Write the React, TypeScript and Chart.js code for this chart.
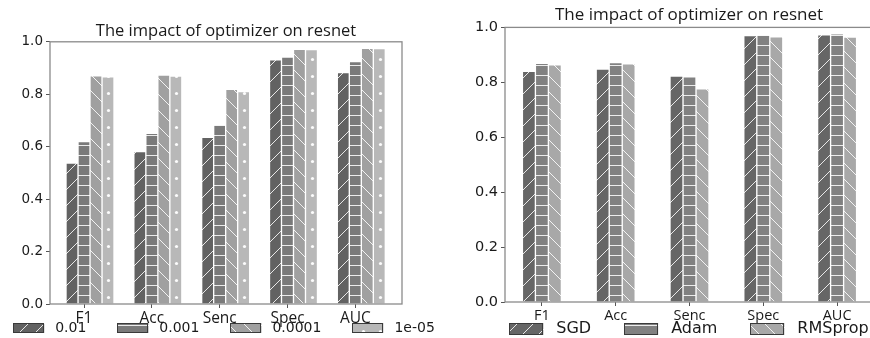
import React, { useEffect, useRef } from 'react';
import { Chart, registerables } from 'chart.js';
Chart.register(...registerables);

const categories = ['F1', 'Acc', 'Senc', 'Spec', 'AUC'];
const lrLabels = ['0.01', '0.001', '0.0001', '1e-05'];
const lr1e2 = [0.537, 0.581, 0.636, 0.931, 0.883];
const lr1e3 = [0.619, 0.651, 0.683, 0.942, 0.925];
const lr1e4 = [0.870, 0.873, 0.819, 0.971, 0.975];
const lr1e5 = [0.866, 0.869, 0.810, 0.970, 0.974];
const optLabels = ['SGD', 'Adam', 'RMSprop'];
const sgd = [0.840, 0.848, 0.823, 0.970, 0.973];
const adam = [0.869, 0.872, 0.820, 0.972, 0.977];
const rmsprop = [0.864, 0.867, 0.776, 0.966, 0.965];
const yTicks = [0, 0.2, 0.4, 0.6, 0.8, 1.0];
const titleText = 'The impact of optimizer on resnet';

type Kind = '/' | '-' | '\\' | '.';

function makePattern(kind: Kind, bg: string): CanvasPattern | string {
  const size = kind === '-' ? 10 : kind === '.' ? 17 : 16;
  const c = document.createElement('canvas');
  c.width = size;
  c.height = size;
  const g = c.getContext('2d');
  if (!g) return bg;
  g.fillStyle = bg;
  g.fillRect(0, 0, size, size);
  g.strokeStyle = 'rgba(255,255,255,0.85)';
  g.fillStyle = 'rgba(255,255,255,0.95)';
  g.lineWidth = 1;
  g.beginPath();
  if (kind === '/') {
    g.moveTo(-2, size + 2); g.lineTo(size + 2, -2);
    g.moveTo(-2, 2); g.lineTo(2, -2);
    g.moveTo(size - 2, size + 2); g.lineTo(size + 2, size - 2);
    g.stroke();
  } else if (kind === '\\') {
    g.moveTo(-2, -2); g.lineTo(size + 2, size + 2);
    g.moveTo(size - 2, -2); g.lineTo(size + 2, 2);
    g.moveTo(-2, size - 2); g.lineTo(2, size + 2);
    g.stroke();
  } else if (kind === '-') {
    g.moveTo(0, size / 2 + 0.5); g.lineTo(size, size / 2 + 0.5);
    g.stroke();
  } else {
    g.arc(6.5, size / 2, 1.6, 0, Math.PI * 2);
    g.fill();
  }
  return g.createPattern(c, 'repeat') || bg;
}

const legendPlugin = {
  id: 'patternLegend',
  afterDraw(chart: any, _args: any, opts: any) {
    const ctx = chart.ctx as CanvasRenderingContext2D;
    const ds = chart.data.datasets;
    ctx.save();
    ctx.font = `${opts.size}px ${opts.family}`;
    const widths = ds.map((d: any) => ctx.measureText(d.label).width);
    const total = widths.reduce((a: number, w: number) => a + opts.boxW + opts.gap + w, 0) + opts.itemGap * (ds.length - 1);
    let x = opts.cx - total / 2;
    ds.forEach((d: any, i: number) => {
      const by = opts.cy - opts.boxH / 2;
      ctx.fillStyle = d.backgroundColor;
      ctx.fillRect(x, by, opts.boxW, opts.boxH);
      ctx.strokeStyle = '#3a3a3a';
      ctx.lineWidth = 1;
      ctx.strokeRect(Math.round(x) + 0.5, Math.round(by) + 0.5, opts.boxW - 1, opts.boxH - 1);
      ctx.fillStyle = '#1a1a1a';
      ctx.textBaseline = 'middle';
      ctx.textAlign = 'left';
      ctx.fillText(d.label, x + opts.boxW + opts.gap, opts.cy);
      x += opts.boxW + opts.gap + widths[i] + opts.itemGap;
    });
    ctx.restore();
  },
};

const framePlugin = {
  id: 'frame',
  afterDatasetsDraw(chart: any) {
    const { ctx, chartArea: a } = chart;
    ctx.save();
    ctx.strokeStyle = '#8a8a8a';
    ctx.lineWidth = 1.3;
    ctx.strokeRect(a.left, a.top, a.right - a.left, a.bottom - a.top);
    ctx.restore();
  },
};

interface Spec {
  labels: string[];
  series: number[][];
  kinds: Kind[];
  colors: string[];
  width: number;
  yAxisW: number;
  padRight: number;
  barW: number;
  xMin: number;
  xMax: number;
  tickOff: number;
  titleSize: number;
  titlePadTop: number;
  titlePadBottom: number;
  xAxisH: number;
  yFont: number;
  xFont: number;
  legend: any;
}

function buildConfig(s: Spec): any {
  const datasets = s.series.map((vals, k) => ({
    label: s.labels[k],
    data: vals.map((v, i) => ({ x: i, y: v })),
    backgroundColor: makePattern(s.kinds[k], s.colors[k]),
    borderColor: 'rgba(255,255,255,0.9)',
    borderWidth: 1,
    borderSkipped: 'bottom',
    barThickness: s.barW,
    yAxisID: 'y',
  }));
  return {
    type: 'bar',
    data: { datasets },
    plugins: [framePlugin, legendPlugin],
    options: {
      responsive: false,
      animation: false,
      devicePixelRatio: 1,
      layout: { padding: 0 },
      plugins: {
        legend: { display: false },
        tooltip: { enabled: false },
        title: {
          display: true,
          text: titleText,
          color: '#1a1a1a',
          font: { family: 'Open Sans', size: s.titleSize, weight: 'normal', lineHeight: 1.2 },
          padding: { top: s.titlePadTop, bottom: s.titlePadBottom },
        },
        patternLegend: s.legend,
      },
      scales: {
        x: {
          type: 'linear',
          min: s.xMin,
          max: s.xMax,
          offset: false,
          afterBuildTicks: (axis: any) => {
            axis.ticks = categories.map((_, i) => ({ value: i + s.tickOff }));
          },
          afterFit: (axis: any) => { axis.height = s.xAxisH; },
          ticks: {
            autoSkip: false,
            maxRotation: 0,
            padding: 1,
            color: '#1a1a1a',
            font: { family: 'Open Sans', size: s.xFont },
            callback: (_v: any, i: number) => categories[i],
          },
          grid: { display: true, offset: false, drawOnChartArea: false, drawTicks: true, tickLength: 4, color: '#555' },
          border: { display: false },
        },
        y: {
          type: 'linear',
          position: 'left',
          min: 0,
          max: 1,
          afterBuildTicks: (axis: any) => {
            axis.ticks = yTicks.map((v) => ({ value: v }));
          },
          afterFit: (axis: any) => { axis.width = s.yAxisW; },
          ticks: {
            padding: 3,
            color: '#1a1a1a',
            font: { family: 'DejaVu Sans', size: s.yFont },
            callback: (v: any) => Number(v).toFixed(1),
          },
          grid: { display: true, drawOnChartArea: false, drawTicks: true, tickLength: 4, color: '#555' },
          border: { display: false },
        },
        yPad: {
          type: 'linear',
          position: 'right',
          display: true,
          afterFit: (axis: any) => { axis.width = s.padRight; },
          ticks: { display: false },
          grid: { display: false, drawTicks: false },
          border: { display: false },
        },
      },
    },
  };
}

const leftSpec: Spec = {
  labels: lrLabels,
  series: [lr1e2, lr1e3, lr1e4, lr1e5],
  kinds: ['/', '-', '\\', '.'],
  colors: ['#626262', '#7a7a7a', '#a0a0a0', '#b8b8b8'],
  width: 452,
  yAxisW: 50,
  padRight: 50,
  barW: 12,
  xMin: -0.59,
  xMax: 4.6,
  tickOff: -0.088,
  titleSize: 16.5,
  titlePadTop: 21,
  titlePadBottom: 1,
  xAxisH: 34,
  yFont: 13.5,
  xFont: 15.5,
  legend: { cx: 224, cy: 328, boxW: 31, boxH: 10, gap: 11, itemGap: 31, size: 14, family: 'DejaVu Sans' },
};

const rightSpec: Spec = {
  labels: optLabels,
  series: [sgd, adam, rmsprop],
  kinds: ['/', '-', '\\'],
  colors: ['#666666', '#818181', '#a8a8a8'],
  width: 496,
  yAxisW: 64,
  padRight: 63,
  barW: 13,
  xMin: -0.5,
  xMax: 4.5,
  tickOff: 0,
  titleSize: 17,
  titlePadTop: 5,
  titlePadBottom: 2,
  xAxisH: 36,
  yFont: 14.5,
  xFont: 14.5,
  legend: { cx: 248, cy: 329, boxW: 34, boxH: 12, gap: 13, itemGap: 33, size: 16, family: 'DejaVu Sans' },
};

function ChartCanvas({ spec, left }: { spec: Spec; left: number }) {
  const ref = useRef<HTMLCanvasElement | null>(null);
  useEffect(() => {
    if (!ref.current) return;
    const chart = new Chart(ref.current, buildConfig(spec));
    return () => chart.destroy();
  }, [spec]);
  return (
    <canvas
      ref={ref}
      width={spec.width}
      height={338}
      style={{ position: 'absolute', left, top: 0, width: spec.width, height: 338 }}
    />
  );
}

export default function App() {
  return (
    <div style={{ position: 'absolute', left: 0, top: 0, width: 870, height: 338, overflow: 'hidden', background: '#fff' }}>
      <ChartCanvas spec={leftSpec} left={0} />
      <ChartCanvas spec={rightSpec} left={441} />
    </div>
  );
}
